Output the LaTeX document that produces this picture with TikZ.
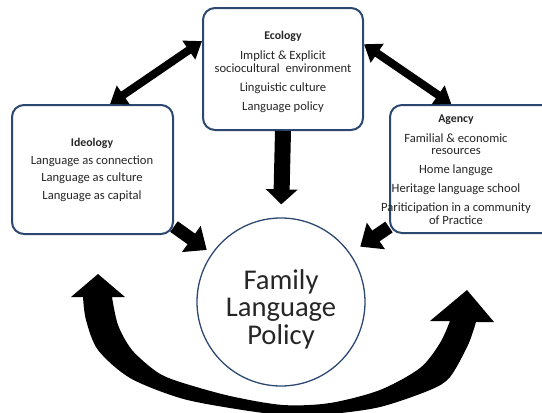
\documentclass[tikz,border=0pt]{standalone}
\usepackage{fontspec}
\setmainfont{Carlito}
\usepackage{tikz}
\usetikzlibrary{arrows.meta}
\definecolor{boxline}{RGB}{45,72,112}
\definecolor{inktext}{RGB}{38,38,38}
\newcommand\boxTitle[1]{{\bfseries\fontsize{11.8}{12.8}\selectfont #1}}
\tikzset{
    box/.style={draw=boxline, line width=2pt, rounded corners=12pt, fill=white, inner sep=0},
    boxtext/.style={align=center, text=inktext, inner sep=0, font=\fontsize{12.6}{12.8}\selectfont},
    twoway/.style={line width=8pt, {Triangle[width=22pt,length=16pt]}-{Triangle[width=22pt,length=16pt]}},
    intoflp/.style={line width=13pt, -{Triangle[width=31pt,length=19pt]}},
    downflp/.style={line width=16pt, -{Triangle[width=31pt,length=15pt]}}
}

\begin{document}
\begin{tikzpicture}[x=1pt, y=-1pt]
            \clip (0, 0) rectangle (542, 413);
            % boxes and circle
            \node[box, minimum width=160, minimum height=122] (eco)  at (283, 69)    {};
            \node[box, minimum width=161, minimum height=129] (ideo) at (92.5, 169.5) {};
            \node[box, minimum width=170, minimum height=128] (agen) at (475, 169)   {};
            \node[circle, draw=boxline, line width=1.3pt, minimum size=168, inner sep=0] (flp) at (281, 302) {};
            % texts
            \node[boxtext] (ecotext) at (283, 72) {\boxTitle{Ecology}\\[7pt]
                Implict \& Explicit\\ sociocultural\ \ environment\\[6pt]
                Linguistic culture\\[6pt]
                Language policy};
            \node[boxtext] (ideotext) at (92, 170) {\boxTitle{Ideology}\\[5pt]
                Language as connection\\[5pt]
                Language as culture\\[5pt]
                Language as capital};
            \node[boxtext] (agentext) at (456, 169.5) {\boxTitle{Agency}\\[7pt]
                Familial \& economic\\ resources\\[6pt]
                Home languge\\[6pt]
                Heritage language school\\[6pt]
                Pariticipation in a community\\ of Practice};
            \node[align=center, text=inktext, inner sep=0, font=\fontsize{28.6}{27.5}\selectfont] (flptext) at (281, 309)
                {Family\\ Language\\ Policy};
            % arrows
            \draw[twoway] (ideo.75) -- (eco.161);
            \draw[twoway] (eco.17)  -- (agen.110);
            \draw[downflp, shorten >=13pt] (eco.south) -- (flp.north);
            \draw[intoflp, shorten >=6pt]  (ideo.-35)  -- (flp.145);
            \draw[intoflp, shorten >=12pt] (agen.214)  -- (flp.35);
            % big curved two-way arrow below
            \fill (98, 274) -- (125, 297)
                -- plot[smooth] coordinates {(112, 297) (118, 325) (132, 350) (157, 372) (180, 382) (230, 396) (283, 405)
                                             (330, 403) (380, 390) (420, 368) (440, 343) (450, 321)}
                -- (430, 321) -- (467, 290) -- (494, 322)
                -- plot[smooth] coordinates {(476, 322) (468, 345) (450, 377) (430, 390) (380, 407) (330, 414) (283, 415)
                                             (230, 408) (180, 398) (130, 378) (98, 350) (86, 320) (83, 297)}
                -- (71, 297) -- cycle;
\end{tikzpicture}
\end{document}
